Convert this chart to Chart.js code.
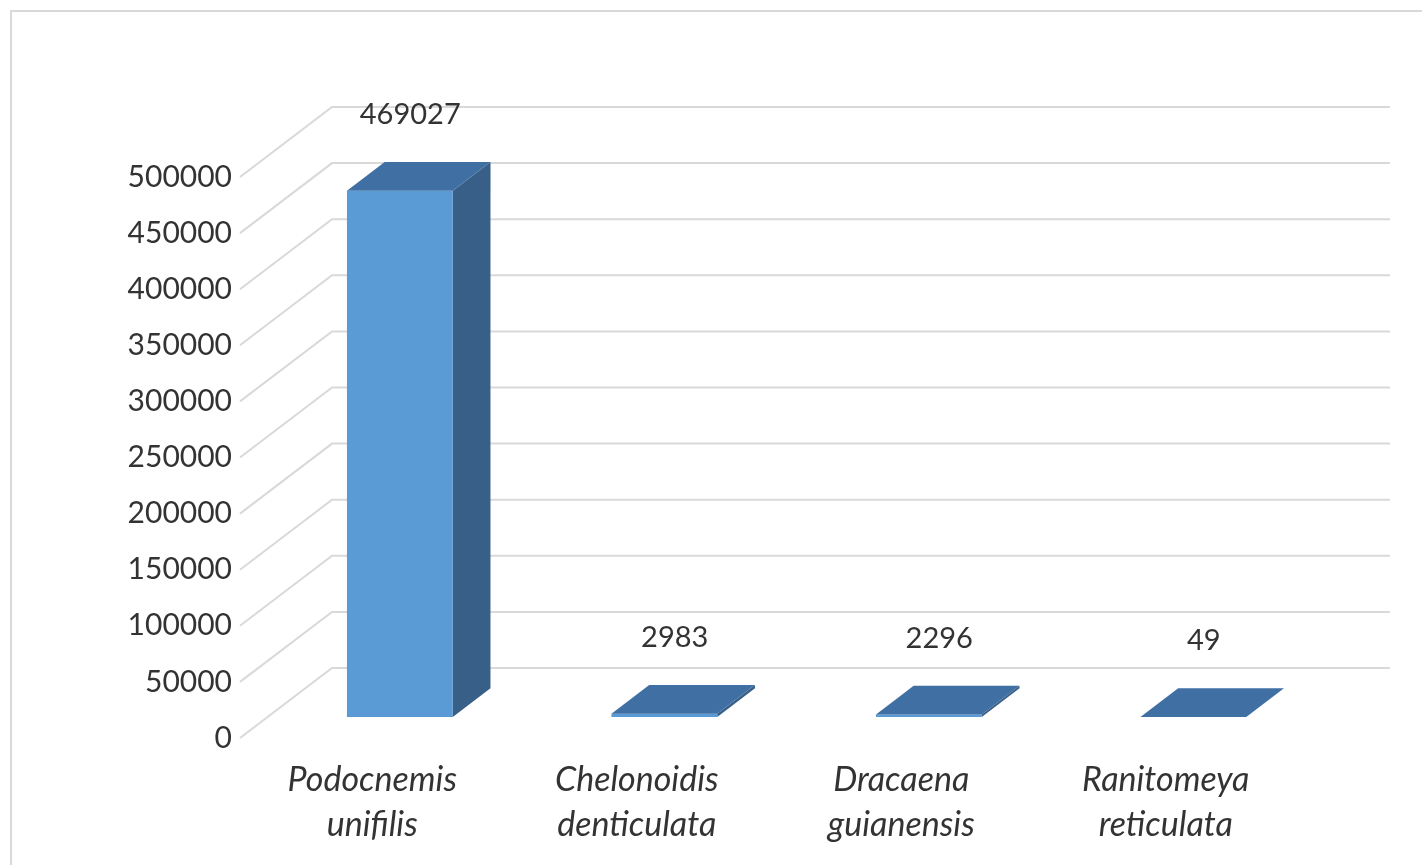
<!DOCTYPE html>
<html>
<head>
<meta charset="utf-8">
<script src="https://cdn.jsdelivr.net/npm/chart.js@4.4.1/dist/chart.umd.min.js"></script>
<style>
html,body{margin:0;padding:0;background:#fff;}
#wrap{width:1422px;height:865px;position:relative;}
</style>
</head>
<body>
<div id="wrap"><canvas id="c" width="1422" height="865"></canvas></div>
<script>
const categories = [['Podocnemis','unifilis'],['Chelonoidis','denticulata'],['Dracaena','guianensis'],['Ranitomeya','reticulata']];
const values = [469027, 2983, 2296, 49];
const valueLabels = ['469027','2983','2296','49'];
const yMax = 500000;
const yStep = 50000;

const WALL = {dx: 92, dy: -70};
const FRONT = 0.30, BACK = 0.71;
const COLORS = {front:'#5B9BD5', top:'#3F6FA3', side:'#375F88', grid:'#D9D9D9', text:'#333333'};
const FONT = 'Lato, "Open Sans", sans-serif';

const threeD = {
  id: 'threeD',
  beforeDraw(chart) {
    const ctx = chart.ctx;
    ctx.save();
    ctx.fillStyle = '#fff';
    ctx.fillRect(0,0,chart.width,chart.height);
    ctx.strokeStyle = '#D9D9D9';
    ctx.lineWidth = 2;
    ctx.strokeRect(11, 11, chart.width + 20, chart.height + 20);
    ctx.restore();
  },
  beforeDatasetsDraw(chart) {
    const ctx = chart.ctx, y = chart.scales.y, a = chart.chartArea;
    ctx.save();
    ctx.strokeStyle = COLORS.grid;
    ctx.lineWidth = 2;
    y.ticks.forEach(t => {
      const py = y.getPixelForValue(t.value);
      ctx.beginPath();
      ctx.moveTo(a.left, py);
      ctx.lineTo(a.left + WALL.dx, py + WALL.dy);
      ctx.lineTo(a.right + WALL.dx, py + WALL.dy);
      ctx.stroke();
    });
    ctx.restore();
  },
  afterDatasetsDraw(chart) {
    const ctx = chart.ctx;
    const meta = chart.getDatasetMeta(0);
    const fx = WALL.dx*FRONT, fy = WALL.dy*FRONT, bx = WALL.dx*BACK, by = WALL.dy*BACK;
    ctx.save();
    meta.data.forEach((bar, i) => {
      const l = bar.x - bar.width/2 + fx, r = bar.x + bar.width/2 + fx;
      const t = bar.y + fy, b = bar.base + fy;
      const ox = bx - fx, oy = by - fy;
      ctx.fillStyle = COLORS.side;
      ctx.beginPath();
      ctx.moveTo(r, t); ctx.lineTo(r+ox, t+oy); ctx.lineTo(r+ox, b+oy); ctx.lineTo(r, b); ctx.closePath(); ctx.fill();
      ctx.fillStyle = COLORS.front;
      ctx.fillRect(l, t, r-l, b-t);
      ctx.fillStyle = COLORS.top;
      ctx.beginPath();
      ctx.moveTo(l, t); ctx.lineTo(r, t); ctx.lineTo(r+ox, t+oy); ctx.lineTo(l+ox, t+oy); ctx.closePath(); ctx.fill();
      ctx.fillStyle = COLORS.text;
      ctx.font = '29px ' + FONT;
      ctx.textAlign = 'center';
      ctx.textBaseline = 'middle';
      ctx.fillText(valueLabels[i], bar.x + 38, bar.y - 97);
    });
    ctx.restore();
  }
};

new Chart(document.getElementById('c'), {
  type: 'bar',
  data: {
    labels: categories,
    datasets: [{
      data: values,
      backgroundColor: 'rgba(0,0,0,0)',
      borderWidth: 0,
      barPercentage: 0.4,
      categoryPercentage: 1.0
    }]
  },
  options: {
    responsive: false,
    animation: false,
    devicePixelRatio: 1,
    layout: {padding: {left: 0, right: 124, top: 177, bottom: 0}},
    plugins: {legend: {display: false}, tooltip: {enabled: false}},
    scales: {
      y: {
        min: 0, max: yMax,
        ticks: {stepSize: yStep, padding: 8, color: COLORS.text, font: {family: FONT, size: 30},
          callback: v => String(v)},
        grid: {display: false, drawTicks: false},
        border: {display: false},
        afterFit(s) { s.width = 240; }
      },
      x: {
        ticks: {padding: 20, color: COLORS.text, font: {family: FONT, size: 34, style: 'italic', lineHeight: 1.32}, maxRotation: 0, autoSkip: false},
        grid: {display: false, drawTicks: false},
        border: {display: false},
        afterFit(s) { s.height = 127; }
      }
    }
  },
  plugins: [threeD]
});
</script>
</body>
</html>
